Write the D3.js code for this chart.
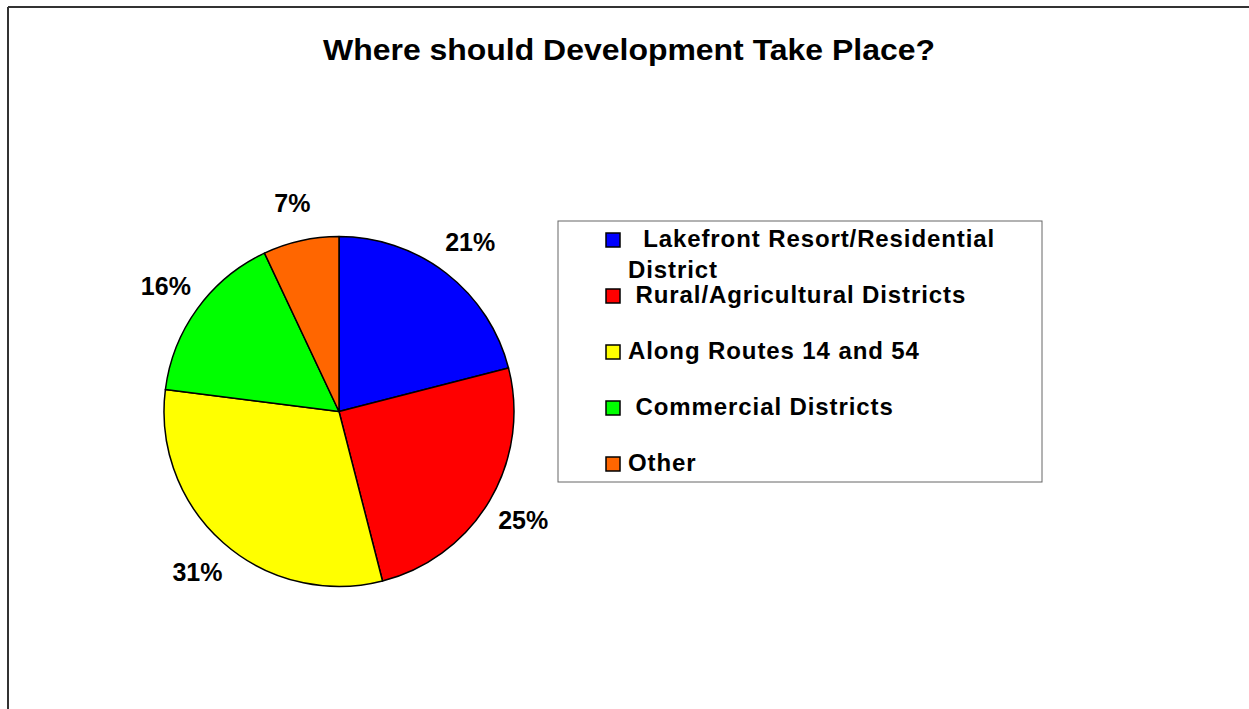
<!DOCTYPE html>
<html>
<head>
<meta charset="utf-8">
<script src="https://cdn.jsdelivr.net/npm/d3@7"></script>
<style>
  body { margin: 0; background: #fff; }
  text { font-family: "Liberation Sans", Arial, sans-serif; font-weight: bold; fill: #000; white-space: pre; }
</style>
</head>
<body>
<svg id="chart"></svg>
<script>
// data
const categories = ["  Lakefront Resort/Residential\nDistrict", " Rural/Agricultural Districts", "Along Routes 14 and 54", " Commercial Districts", "Other"];
const shares = [21, 25, 31, 16, 7];
const sliceColors = ["#0000ff", "#ff0000", "#ffff00", "#00ff00", "#ff6600"];
const chartTitle = "Where should Development Take Place?";

const W = 1249, H = 709;

const svg = d3.select("#chart")
  .attr("width", W)
  .attr("height", H);

// outer frame (only top and left edges show)
svg.append("line")
  .attr("x1", 8).attr("y1", 7).attr("x2", W).attr("y2", 7)
  .attr("stroke", "#333").attr("stroke-width", 2);
svg.append("line")
  .attr("x1", 8).attr("y1", 7).attr("x2", 8).attr("y2", H)
  .attr("stroke", "#333").attr("stroke-width", 2);

// title
svg.append("text")
  .attr("x", 629)
  .attr("y", 60)
  .attr("text-anchor", "middle")
  .style("font-size", "29px")
  .attr("textLength", 612)
  .attr("lengthAdjust", "spacingAndGlyphs")
  .text(chartTitle);

// pie
const cx = 339, cy = 411.5, radius = 175;

const pie = d3.pie().sort(null).value(d => d);
const arcs = pie(shares);

const arc = d3.arc().innerRadius(0).outerRadius(radius);
const labelArc = d3.arc().innerRadius(214).outerRadius(214);

const pieG = svg.append("g")
  .attr("transform", `translate(${cx},${cy})`);

pieG.selectAll("path")
  .data(arcs)
  .enter()
  .append("path")
    .attr("d", arc)
    .attr("fill", (d, i) => sliceColors[i])
    .attr("stroke", "#000")
    .attr("stroke-width", 1.5)
    .attr("stroke-linejoin", "round");

pieG.selectAll(".pct")
  .data(arcs)
  .enter()
  .append("text")
    .attr("class", "pct")
    .attr("transform", d => `translate(${labelArc.centroid(d)})`)
    .attr("text-anchor", "middle")
    .attr("dy", "0.36em")
    .style("font-size", "25px")
    .text(d => d.data + "%");

// legend
const legX = 558, legY = 221, legW = 484, legH = 261;
const legend = svg.append("g");

legend.append("rect")
  .attr("x", legX).attr("y", legY)
  .attr("width", legW).attr("height", legH)
  .attr("fill", "#fff")
  .attr("stroke", "#666")
  .attr("stroke-width", 1);

const rowY = d3.scalePoint()
  .domain(d3.range(categories.length))
  .range([240, 464]);

const rows = legend.selectAll(".row")
  .data(categories)
  .enter()
  .append("g")
    .attr("class", "row")
    .attr("transform", (d, i) => `translate(0,${rowY(i)})`);

rows.append("rect")
  .attr("x", 606).attr("y", -7)
  .attr("width", 14).attr("height", 14)
  .attr("fill", (d, i) => sliceColors[i])
  .attr("stroke", "#000")
  .attr("stroke-width", 1.5);

rows.append("text")
  .attr("y", 6.5)
  .style("font-size", "24px")
  .style("letter-spacing", "0.9px")
  .selectAll("tspan")
  .data(d => d.split("\n"))
  .enter()
  .append("tspan")
    .attr("x", 628)
    .attr("dy", (d, i) => i === 0 ? 0 : 31)
    .text(d => d);
</script>
</body>
</html>
